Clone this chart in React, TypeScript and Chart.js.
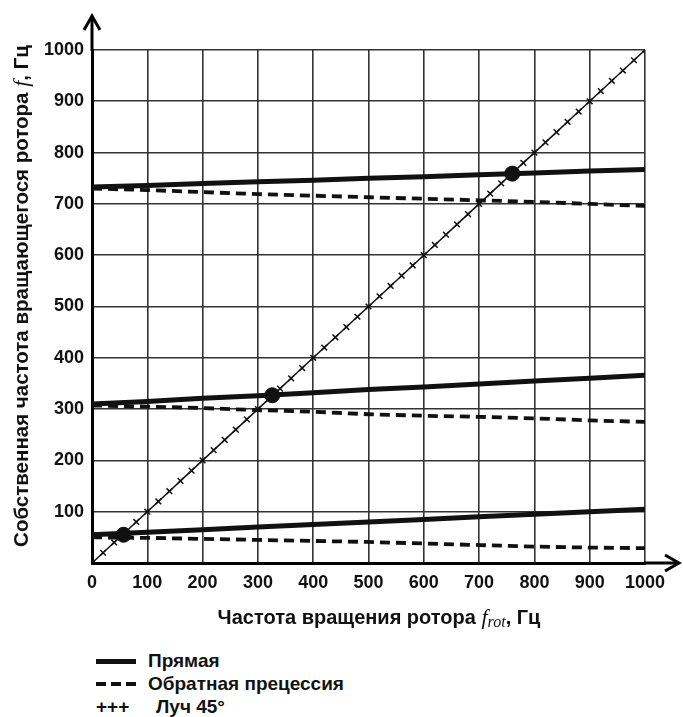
import React, { useEffect, useRef } from "react";
import { Chart, registerables } from "chart.js";
Chart.register(...registerables);

// ---- data ----
const rotorSpeed = [0, 100, 200, 300, 400, 500, 600, 700, 800, 900, 1000];
const forward3 = [733, 736, 740, 743, 746, 750, 753, 757, 760, 764, 767];
const backward3 = [730, 727, 723, 719, 716, 713, 710, 707, 704, 700, 696];
const forward2 = [310, 315, 321, 326, 332, 338, 343, 349, 355, 360, 366];
const backward2 = [307, 305, 302, 298, 295, 290, 287, 285, 282, 278, 275];
const forward1 = [55, 60, 65, 70, 75, 80, 85, 90, 95, 100, 105];
const backward1 = [50, 49, 47, 45, 43, 41, 38, 35, 32, 30, 29];
const rayMarks = [0, 20, 40, 60, 80, 100, 120, 140, 160, 180, 200, 220, 240, 260, 280, 300, 320, 340, 360, 380, 400, 420, 440, 460, 480, 500, 520, 540, 560, 580, 600, 620, 640, 660, 680, 700, 720, 740, 760, 780, 800, 820, 840, 860, 880, 900, 920, 940, 960, 980, 1000];
const crossX = [57, 326, 760];
const crossY = [55, 327, 759];
const axisTicks = [0, 100, 200, 300, 400, 500, 600, 700, 800, 900, 1000];

const W = 683;
const H = 640;
const FONT = "'Liberation Sans', Arial, sans-serif";

const pts = (xs: number[], ys: number[]) => xs.map((x, i) => ({ x, y: ys[i] }));

type Piece = { t: string; f: string; dy?: number };
function drawRich(ctx: CanvasRenderingContext2D, pieces: Piece[], cx: number, cy: number) {
  let total = 0;
  const ws = pieces.map((p) => {
    ctx.font = p.f;
    const w = ctx.measureText(p.t).width;
    total += w;
    return w;
  });
  let x = cx - total / 2;
  pieces.forEach((p, i) => {
    ctx.font = p.f;
    ctx.fillText(p.t, x, cy + (p.dy || 0));
    x += ws[i];
  });
}

const decorPlugin = {
  id: "decor",
  afterDraw(chart: any) {
    const { ctx, chartArea } = chart;
    const { left, bottom, top, right } = chartArea;
    ctx.save();
    ctx.strokeStyle = "#000";
    ctx.lineWidth = 3;
    ctx.lineCap = "butt";
    ctx.beginPath();
    ctx.moveTo(left, top + 1);
    ctx.lineTo(left, 16);
    ctx.moveTo(right - 1, bottom);
    ctx.lineTo(679, bottom);
    ctx.stroke();
    ctx.lineJoin = "miter";
    ctx.beginPath();
    ctx.moveTo(left - 8, 30);
    ctx.lineTo(left, 16);
    ctx.lineTo(left + 8, 30);
    ctx.moveTo(665, bottom - 8);
    ctx.lineTo(679, bottom);
    ctx.lineTo(665, bottom + 8);
    ctx.stroke();

    ctx.fillStyle = "#111";
    ctx.textBaseline = "alphabetic";
    const boldX = `bold 20px ${FONT}`;
    const bold = `bold 20.5px ${FONT}`;
    const ital = "italic 22px 'Liberation Serif', 'DejaVu Serif', serif";
    const sub = "italic 16px 'Liberation Serif', 'DejaVu Serif', serif";
    drawRich(
      ctx,
      [
        { t: "Частота вращения ротора ", f: boldX },
        { t: "f", f: ital },
        { t: "rot", f: sub, dy: 3 },
        { t: ", Гц", f: boldX },
      ],
      379,
      624
    );
    ctx.translate(28, 296);
    ctx.rotate(-Math.PI / 2);
    drawRich(
      ctx,
      [
        { t: "Собственная частота вращающегося ротора ", f: bold },
        { t: "f", f: ital },
        { t: ", Гц", f: bold },
      ],
      0,
      0
    );
    ctx.restore();
  },
};

export default function App() {
  const ref = useRef<HTMLCanvasElement>(null);
  useEffect(() => {
    if (!ref.current) return;
    const solid = (d: number[]) => ({
      type: "line" as const,
      data: pts(rotorSpeed, d),
      borderColor: "#111",
      borderWidth: 5,
      pointRadius: 0,
      tension: 0,
      order: 1,
    });
    const dashed = (d: number[]) => ({
      type: "line" as const,
      data: pts(rotorSpeed, d),
      borderColor: "#111",
      borderWidth: 3.8,
      borderDash: [10, 6],
      pointRadius: 0,
      tension: 0,
      order: 2,
    });
    const gridColor = (c: any) => (c.tick && c.tick.value === 0 ? "rgba(0,0,0,0)" : "#333");
    const chart = new Chart(ref.current, {
      type: "line",
      data: {
        datasets: [
          {
            type: "scatter",
            data: pts(crossX, crossY),
            backgroundColor: "#111",
            borderColor: "#111",
            pointRadius: 7.5,
            order: 0,
          } as any,
          solid(forward3),
          dashed(backward3),
          solid(forward2),
          dashed(backward2),
          solid(forward1),
          dashed(backward1),
          {
            type: "line",
            data: pts(rayMarks, rayMarks),
            borderColor: "#111",
            borderWidth: 1.5,
            pointStyle: "crossRot",
            pointRadius: 4,
            pointBorderWidth: 1.5,
            pointBorderColor: "#111",
            tension: 0,
            order: 3,
          } as any,
        ],
      },
      options: {
        responsive: false,
        animation: false,
        events: [],
        layout: { padding: { left: 0, top: 50, right: 38, bottom: 0 } },
        plugins: { legend: { display: false }, tooltip: { enabled: false } },
        scales: {
          x: {
            type: "linear",
            min: 0,
            max: 1000,
            afterFit: (s: any) => {
              s.height = H - 563;
            },
            afterBuildTicks: (s: any) => {
              s.ticks = axisTicks.map((v) => ({ value: v }));
            },
            ticks: {
              padding: 9,
              color: "#111",
              font: { family: FONT, size: 18, weight: "bold" },
              maxRotation: 0,
              callback: (v: any) => String(v),
            },
            grid: { color: gridColor, lineWidth: 1.6, drawTicks: false },
            border: { display: true, color: "#000", width: 3 },
          },
          y: {
            type: "linear",
            min: 0,
            max: 1000,
            afterFit: (s: any) => {
              s.width = 92;
            },
            afterBuildTicks: (s: any) => {
              s.ticks = axisTicks.map((v) => ({ value: v }));
            },
            ticks: {
              padding: 8,
              color: "#111",
              font: { family: FONT, size: 18, weight: "bold" },
              callback: (v: any) => (v === 0 ? "" : String(v)),
            },
            grid: { color: gridColor, lineWidth: 1.6, drawTicks: false },
            border: { display: true, color: "#000", width: 3 },
          },
        },
      },
      plugins: [decorPlugin],
    } as any);
    return () => chart.destroy();
  }, []);

  const txt: React.CSSProperties = {
    position: "absolute",
    left: 148,
    font: `bold 19px ${FONT}`,
    color: "#111",
    lineHeight: "20px",
    whiteSpace: "nowrap",
  };
  const bar = (left: number, top: number, w: number, h: number): React.CSSProperties => ({
    position: "absolute",
    left,
    top,
    width: w,
    height: h,
    background: "#111",
  });
  return (
    <div
      style={{
        position: "fixed",
        left: 0,
        top: 0,
        width: W,
        height: 717,
        background: "#fff",
        overflow: "hidden",
      }}
    >
      <canvas ref={ref} width={W} height={H} style={{ position: "absolute", left: 0, top: 0 }} />
      <div style={bar(96, 659, 40, 5)} />
      <div style={{ ...txt, top: 651 }}>Прямая</div>
      <div style={bar(96, 682, 10, 4)} />
      <div style={bar(111, 682, 10, 4)} />
      <div style={bar(126, 682, 10, 4)} />
      <div style={{ ...txt, top: 674 }}>Обратная прецессия</div>
      <div style={{ ...txt, left: 96, top: 697 }}>+++</div>
      <div style={{ ...txt, left: 156, top: 697 }}>Луч 45°</div>
    </div>
  );
}
